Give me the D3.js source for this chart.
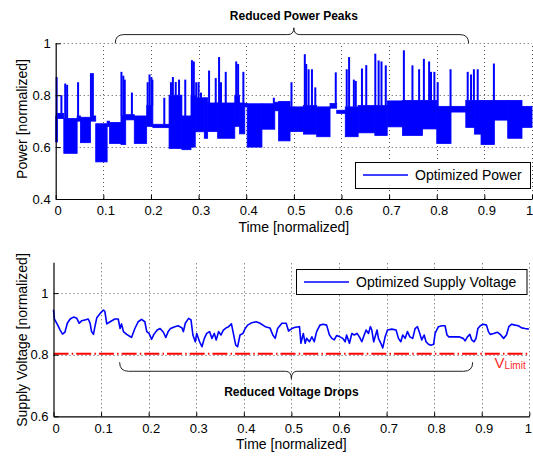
<!DOCTYPE html>
<html>
<head>
<meta charset="utf-8">
<script src="https://cdn.jsdelivr.net/npm/d3@7"></script>
<style>
	body { margin: 0; background: #fff; }
	svg { display: block; font-family: "Liberation Sans", Arial, sans-serif; }
</style>
</head>
<body>
<div id="chart"></div>
<script>
// ----------------------------------
// DATA
// ----------------------------------

const timeTicks = [0, 0.1, 0.2, 0.3, 0.4, 0.5, 0.6, 0.7, 0.8, 0.9, 1];
const powerTicks = [0.4, 0.6, 0.8, 1];
const voltTicks = [0.6, 0.8, 1];

// power switches very fast between two levels -> [t0, t1, low, high]
const powerBands = [
	[0.000,0.004,0.62,0.72],[0.004,0.017,0.71,0.73],[0.017,0.045,0.576,0.71],[0.045,0.052,0.70,0.72],
	[0.052,0.073,0.617,0.715],[0.073,0.084,0.70,0.72],[0.084,0.108,0.543,0.69],[0.108,0.113,0.68,0.70],
	[0.113,0.137,0.614,0.695],[0.137,0.147,0.61,0.72],[0.147,0.165,0.705,0.725],[0.165,0.191,0.614,0.72],
	[0.191,0.204,0.68,0.76],[0.204,0.238,0.675,0.688],[0.238,0.265,0.595,0.80],[0.265,0.284,0.59,0.72],
	[0.284,0.293,0.60,0.80],[0.293,0.312,0.659,0.79],[0.312,0.319,0.634,0.79],[0.319,0.340,0.66,0.77],
	[0.340,0.376,0.634,0.77],[0.376,0.386,0.68,0.80],[0.386,0.397,0.651,0.77],[0.397,0.402,0.755,0.768],
	[0.402,0.433,0.60,0.767],[0.433,0.460,0.669,0.767],[0.460,0.468,0.74,0.773],[0.468,0.492,0.624,0.776],
	[0.492,0.520,0.66,0.755],[0.520,0.548,0.65,0.76],[0.548,0.576,0.64,0.755],[0.576,0.590,0.75,0.768],
	[0.590,0.608,0.73,0.742],[0.608,0.635,0.64,0.755],[0.635,0.670,0.655,0.76],[0.670,0.696,0.645,0.76],
	[0.696,0.728,0.678,0.778],[0.728,0.770,0.645,0.78],[0.770,0.800,0.67,0.78],[0.800,0.830,0.614,0.757],
	[0.830,0.861,0.735,0.757],[0.861,0.879,0.676,0.78],[0.879,0.893,0.65,0.78],[0.893,0.921,0.61,0.78],
	[0.921,0.949,0.704,0.78],[0.949,0.979,0.634,0.78],[0.979,1.000,0.676,0.757]
];

// short peaks above the bands -> [t, peak]
const powerSpikes = [
	[0.002,0.87],[0.012,0.80],[0.020,0.845],[0.024,0.84],[0.047,0.85],[0.074,0.885],[0.078,0.885],
	[0.138,0.89],[0.142,0.875],[0.145,0.86],[0.160,0.81],[0.193,0.85],[0.197,0.88],[0.201,0.87],[0.203,0.86],
	[0.228,0.79],[0.242,0.85],[0.246,0.87],[0.252,0.851],[0.259,0.86],[0.263,0.795],[0.272,0.86],
	[0.286,0.935],[0.290,0.93],[0.295,0.85],[0.300,0.85],[0.305,0.81],[0.322,0.895],[0.336,0.866],
	[0.343,0.947],[0.347,0.85],[0.357,0.89],[0.379,0.93],[0.383,0.92],[0.394,0.89],[0.458,0.79],
	[0.495,0.85],[0.523,0.958],[0.526,0.92],[0.531,0.90],[0.538,0.90],[0.545,0.83],[0.588,0.888],
	[0.611,0.90],[0.616,0.947],[0.626,0.86],[0.630,0.855],[0.643,0.903],[0.652,0.916],[0.671,0.96],
	[0.678,0.934],[0.684,0.93],[0.693,0.915],[0.731,0.973],[0.749,0.915],[0.763,0.90],[0.773,0.94],
	[0.784,0.93],[0.788,0.89],[0.795,0.89],[0.802,0.85],[0.829,0.90],[0.865,0.89],[0.872,0.88],
	[0.878,0.90],[0.886,0.90],[0.920,0.922]
];

// supply voltage -> [t, v]
const voltage = [
	[0.000,0.946],[0.002,0.915],[0.007,0.902],[0.014,0.88],[0.019,0.867],[0.024,0.873],[0.029,0.902],
	[0.035,0.916],[0.042,0.922],[0.049,0.918],[0.054,0.902],[0.059,0.91],[0.066,0.913],[0.073,0.916],
	[0.077,0.902],[0.080,0.875],[0.084,0.866],[0.087,0.891],[0.091,0.92],[0.098,0.934],[0.105,0.945],
	[0.108,0.94],[0.112,0.90],[0.119,0.907],[0.129,0.916],[0.136,0.916],[0.140,0.885],[0.143,0.90],
	[0.147,0.875],[0.154,0.866],[0.161,0.859],[0.164,0.856],[0.171,0.885],[0.178,0.907],[0.185,0.915],
	[0.192,0.907],[0.196,0.875],[0.201,0.869],[0.206,0.85],[0.211,0.866],[0.218,0.88],[0.224,0.885],
	[0.231,0.873],[0.236,0.856],[0.241,0.875],[0.246,0.885],[0.255,0.891],[0.262,0.894],[0.270,0.887],
	[0.273,0.875],[0.277,0.902],[0.284,0.918],[0.289,0.913],[0.293,0.864],[0.298,0.842],[0.301,0.869],
	[0.307,0.842],[0.312,0.826],[0.317,0.853],[0.322,0.869],[0.328,0.875],[0.333,0.853],[0.338,0.869],
	[0.342,0.848],[0.347,0.875],[0.352,0.864],[0.357,0.88],[0.363,0.887],[0.368,0.891],[0.374,0.90],
	[0.378,0.869],[0.383,0.831],[0.387,0.826],[0.392,0.864],[0.398,0.869],[0.403,0.885],[0.408,0.896],
	[0.417,0.904],[0.426,0.907],[0.434,0.902],[0.445,0.891],[0.455,0.887],[0.461,0.864],[0.466,0.853],
	[0.471,0.885],[0.480,0.902],[0.489,0.902],[0.494,0.877],[0.501,0.885],[0.508,0.889],[0.517,0.891],
	[0.520,0.837],[0.525,0.869],[0.529,0.837],[0.532,0.853],[0.538,0.842],[0.543,0.858],[0.548,0.842],
	[0.553,0.875],[0.560,0.896],[0.567,0.899],[0.574,0.896],[0.580,0.864],[0.585,0.853],[0.590,0.848],
	[0.595,0.862],[0.602,0.858],[0.608,0.853],[0.613,0.842],[0.616,0.864],[0.622,0.837],[0.627,0.869],
	[0.632,0.864],[0.638,0.869],[0.643,0.858],[0.648,0.842],[0.653,0.864],[0.657,0.88],[0.662,0.869],
	[0.666,0.891],[0.669,0.88],[0.673,0.842],[0.676,0.858],[0.680,0.88],[0.683,0.853],[0.688,0.837],
	[0.692,0.822],[0.697,0.858],[0.702,0.88],[0.711,0.883],[0.720,0.88],[0.725,0.853],[0.730,0.842],
	[0.734,0.864],[0.739,0.853],[0.744,0.875],[0.749,0.858],[0.755,0.853],[0.760,0.885],[0.765,0.891],
	[0.769,0.873],[0.774,0.848],[0.779,0.864],[0.783,0.842],[0.788,0.834],[0.793,0.831],[0.799,0.834],
	[0.802,0.869],[0.809,0.891],[0.816,0.894],[0.823,0.894],[0.827,0.864],[0.831,0.858],[0.841,0.858],
	[0.852,0.858],[0.861,0.853],[0.865,0.845],[0.870,0.858],[0.875,0.866],[0.879,0.848],[0.884,0.842],
	[0.888,0.853],[0.892,0.885],[0.897,0.894],[0.903,0.899],[0.910,0.896],[0.914,0.875],[0.918,0.866],
	[0.925,0.869],[0.933,0.873],[0.940,0.864],[0.946,0.853],[0.952,0.864],[0.957,0.891],[0.963,0.899],
	[0.970,0.896],[0.977,0.894],[0.984,0.887],[0.991,0.885],[0.999,0.883]
];

const vLimit = 0.803;
const topBrace = [0.125, 0.5, 0.867];
const bottomBrace = [0.139, 0.5, 0.881];

// ----------------------------------
// SETUP
// ----------------------------------

const width = 533, height = 457;
const blue = '#0000ff';

const svg = d3.select('#chart')
	.append('svg')
	.attr('width', width)
	.attr('height', height);

const xTop = d3.scaleLinear().domain([0, 1]).range([55.7, 532]);
const yTop = d3.scaleLinear().domain([0.4, 1]).range([199, 43.3]);
const xBot = d3.scaleLinear().domain([0, 1]).range([53.5, 529.3]);
const yBot = d3.scaleLinear().domain([0.6, 1.1]).range([416.3, 262.3]);

function drawGrid(x, y, xs, ys){
	const g = svg.append('g')
		.attr('stroke', '#555')
		.attr('stroke-width', 1)
		.attr('stroke-dasharray', '1,3');
	xs.filter(d => d > 0).forEach(d => {
		g.append('line')
			.attr('x1', Math.round(x(d)) + 0.5).attr('x2', Math.round(x(d)) + 0.5)
			.attr('y1', y.range()[0]).attr('y2', y.range()[1]);
	});
	ys.filter(d => d > y.domain()[0]).forEach(d => {
		g.append('line')
			.attr('x1', x.range()[0]).attr('x2', x.range()[1])
			.attr('y1', Math.round(y(d)) + 0.5).attr('y2', Math.round(y(d)) + 0.5);
	});
}

function drawAxes(x, y, xs, ys, xLabel, yLabel, yLabelCenter, lastDx){
	const xAxis = d3.axisBottom(x)
		.tickValues(xs)
		.tickFormat(d3.format('~g'))
		.tickSizeInner(-4)
		.tickSizeOuter(0)
		.tickPadding(7);
	const yAxis = d3.axisLeft(y)
		.tickValues(ys)
		.tickFormat(d3.format('~g'))
		.tickSizeInner(-5)
		.tickSizeOuter(0)
		.tickPadding(5);

	const gx = svg.append('g')
		.attr('transform', `translate(0,${y.range()[0]})`)
		.call(xAxis);
	const gy = svg.append('g')
		.attr('transform', `translate(${x.range()[0]},0)`)
		.call(yAxis);

	[gx, gy].forEach(g => {
		g.select('.domain').attr('stroke', '#000').attr('stroke-width', 1.2);
		g.selectAll('.tick line').attr('stroke', '#000');
		g.selectAll('.tick text')
			.attr('fill', '#000')
			.style('font-size', '13px')
			.style('font-family', '"Liberation Sans", Arial, sans-serif');
	});
	// last label ("1") sits against the page edge
	gx.selectAll('.tick text').attr('dx', d => d === 1 ? lastDx : 2);

	svg.append('text')
		.text(xLabel)
		.attr('x', x(0.5))
		.attr('y', y.range()[0] + 33)
		.attr('text-anchor', 'middle')
		.style('font-size', '14px');

	svg.append('text')
		.text(yLabel)
		.attr('transform', `translate(22,${yLabelCenter}) rotate(-90)`)
		.attr('text-anchor', 'middle')
		.attr('dominant-baseline', 'central')
		.style('font-size', '14px');
}

function drawLegend(x0, x1, y0, y1, label){
	svg.append('rect')
		.attr('x', x0 + 0.5).attr('y', y0 + 0.5)
		.attr('width', x1 - x0).attr('height', y1 - y0)
		.attr('fill', '#fff')
		.attr('stroke', '#000')
		.attr('stroke-width', 1);
	const ym = Math.round((y0 + y1) / 2);
	svg.append('line')
		.attr('x1', x0 + 8).attr('x2', x0 + 53)
		.attr('y1', ym).attr('y2', ym)
		.attr('stroke', blue)
		.attr('stroke-width', 1.3);
	svg.append('text')
		.text(label)
		.attr('x', x0 + 60)
		.attr('y', ym + 5)
		.style('font-size', '14px');
}

// curly brace: ends at yEnd, bar at yLine, tip at yTip
function brace(x0, xm, x1, yEnd, yLine, yTip){
	const r = Math.abs(yEnd - yLine), r2 = 6;
	const p = d3.path();
	p.moveTo(x0, yEnd);
	p.quadraticCurveTo(x0, yLine, x0 + r, yLine);
	p.lineTo(xm - r2, yLine);
	p.quadraticCurveTo(xm, yLine, xm, yTip);
	p.quadraticCurveTo(xm, yLine, xm + r2, yLine);
	p.lineTo(x1 - r, yLine);
	p.quadraticCurveTo(x1, yLine, x1, yEnd);
	svg.append('path')
		.attr('d', p.toString())
		.attr('fill', 'none')
		.attr('stroke', '#222')
		.attr('stroke-width', 1);
}

// ----------------------------------
// TOP: POWER
// ----------------------------------

drawGrid(xTop, yTop, timeTicks, powerTicks);

const powerG = svg.append('g');

powerG.selectAll('rect.band')
	.data(powerBands)
	.enter()
	.append('rect')
		.classed('band', true)
		.attr('x', d => xTop(d[0]))
		.attr('width', d => Math.max(1, xTop(d[1]) - xTop(d[0])))
		.attr('y', d => yTop(d[3]))
		.attr('height', d => yTop(d[2]) - yTop(d[3]))
		.attr('fill', blue)
		.attr('stroke', blue)
		.attr('stroke-width', 0.8);

const bandAt = t => powerBands.find(b => t >= b[0] && t <= b[1]);

powerG.selectAll('line.spike')
	.data(powerSpikes)
	.enter()
	.append('line')
		.classed('spike', true)
		.attr('x1', d => xTop(d[0]))
		.attr('x2', d => xTop(d[0]))
		.attr('y1', d => yTop(bandAt(d[0])[3]))
		.attr('y2', d => yTop(d[1]))
		.attr('stroke', blue)
		.attr('stroke-width', 2);

drawAxes(xTop, yTop, timeTicks, powerTicks, 'Time [normalized]', 'Power [normalized]', 119, -3);
drawLegend(355, 530, 162, 188, 'Optimized Power');

brace(xTop(topBrace[0]), xTop(topBrace[1]), xTop(topBrace[2]), yTop(1), yTop(1) - 8.7, yTop(1) - 15.5);
svg.append('text')
	.text('Reduced Power Peaks')
	.attr('x', xTop(topBrace[1]))
	.attr('y', 20)
	.attr('text-anchor', 'middle')
	.style('font-size', '12px')
	.style('font-weight', 'bold');

// ----------------------------------
// BOTTOM: SUPPLY VOLTAGE
// ----------------------------------

drawGrid(xBot, yBot, timeTicks, voltTicks);

svg.append('path')
	.datum([[0, vLimit], [1, vLimit]])
	.attr('d', d3.line().x(d => xBot(d[0])).y(d => yBot(d[1])))
	.attr('stroke', '#ff0000')
	.attr('stroke-width', 2)
	.attr('stroke-dasharray', '15,3.2,1.5,3')
	.attr('fill', 'none');

svg.append('path')
	.datum(voltage)
	.attr('d', d3.line().x(d => xBot(d[0])).y(d => yBot(d[1])))
	.attr('stroke', blue)
	.attr('stroke-width', 1.6)
	.attr('stroke-linejoin', 'round')
	.attr('fill', 'none');

drawAxes(xBot, yBot, timeTicks, voltTicks, 'Time [normalized]', 'Supply Voltage [normalized]', 340, -1.5);
drawLegend(296, 526.5, 269, 294, 'Optimized Supply Voltage');

brace(xBot(bottomBrace[0]), xBot(bottomBrace[1]), xBot(bottomBrace[2]),
	yBot(vLimit) + 8.5, yBot(vLimit) + 17.5, yBot(vLimit) + 25);
svg.append('text')
	.text('Reduced Voltage Drops')
	.attr('x', xBot(bottomBrace[1]))
	.attr('y', 396)
	.attr('text-anchor', 'middle')
	.style('font-size', '12px')
	.style('font-weight', 'bold');

const vLab = svg.append('text')
	.attr('x', xBot(0.927))
	.attr('y', yBot(vLimit) + 14)
	.attr('fill', '#ff2a2a')
	.style('font-size', '15px');
vLab.append('tspan').text('V');
vLab.append('tspan')
	.text('Limit')
	.attr('dy', 1)
	.style('font-size', '10px');
</script>
</body>
</html>
